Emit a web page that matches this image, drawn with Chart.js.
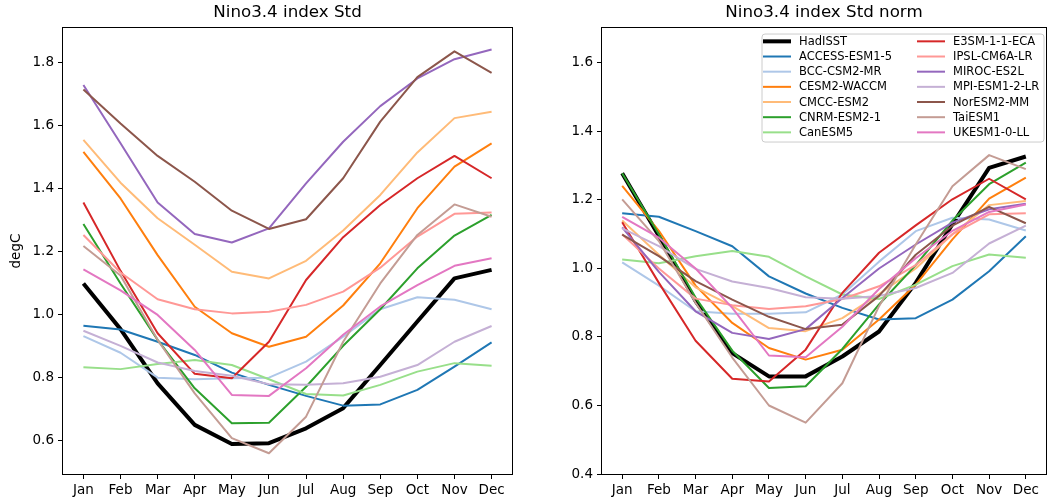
<!DOCTYPE html>
<html>
<head>
<meta charset="utf-8">
<title>Nino3.4 index Std</title>
<script src="https://cdn.jsdelivr.net/npm/chart.js@4.4.1/dist/chart.umd.min.js"></script>
<style>
  html, body { margin: 0; padding: 0; background: #ffffff; }
  #wrap { position: relative; width: 1049px; height: 502px; overflow: hidden; background: #ffffff; }
  #wrap canvas { position: absolute; top: 0; }
</style>
</head>
<body>
<div id="wrap">
  <canvas id="stdChart" width="575" height="502" style="left:0px"></canvas>
  <canvas id="normChart" width="588" height="502" style="left:530px"></canvas>
</div>
<script>
// ---- categories and tick labels ----
const months = ['Jan', 'Feb', 'Mar', 'Apr', 'May', 'Jun', 'Jul', 'Aug', 'Sep', 'Oct', 'Nov', 'Dec'];
const stdTicks = [0.6, 0.8, 1.0, 1.2, 1.4, 1.6, 1.8];
const normTicks = [0.4, 0.6, 0.8, 1.0, 1.2, 1.4, 1.6];

// ---- series names and colours ----
const seriesNames = ['HadISST', 'ACCESS-ESM1-5', 'BCC-CSM2-MR', 'CESM2-WACCM', 'CMCC-ESM2',
  'CNRM-ESM2-1', 'CanESM5', 'E3SM-1-1-ECA', 'IPSL-CM6A-LR', 'MIROC-ES2L',
  'MPI-ESM1-2-LR', 'NorESM2-MM', 'TaiESM1', 'UKESM1-0-LL'];
const seriesColors = ['#000000', '#1f77b4', '#aec7e8', '#ff7f0e', '#ffbb78',
  '#2ca02c', '#98df8a', '#d62728', '#ff9896', '#9467bd',
  '#c5b0d5', '#8c564b', '#c49c94', '#e377c2'];

// ---- monthly standard deviation of the Nino3.4 index (degC) ----
const hadisstStd = [1.100, 0.955, 0.783, 0.651, 0.590, 0.593, 0.640, 0.704, 0.841, 0.979, 1.116, 1.143];
const accessStd  = [0.966, 0.954, 0.915, 0.873, 0.817, 0.778, 0.743, 0.712, 0.716, 0.762, 0.836, 0.913];
const bccStd     = [0.933, 0.880, 0.801, 0.796, 0.799, 0.801, 0.852, 0.931, 1.018, 1.056, 1.048, 1.018];
const cesmStd    = [1.518, 1.370, 1.190, 1.026, 0.942, 0.899, 0.931, 1.030, 1.164, 1.339, 1.471, 1.545];
const cmccStd    = [1.556, 1.420, 1.307, 1.223, 1.137, 1.116, 1.172, 1.268, 1.381, 1.516, 1.625, 1.645];
const cnrmStd    = [1.289, 1.100, 0.921, 0.767, 0.656, 0.658, 0.772, 0.902, 1.018, 1.148, 1.252, 1.318];
const canesmStd  = [0.834, 0.828, 0.844, 0.857, 0.841, 0.796, 0.749, 0.744, 0.778, 0.820, 0.847, 0.839];
const e3smStd    = [1.357, 1.140, 0.942, 0.813, 0.799, 0.915, 1.111, 1.247, 1.349, 1.434, 1.505, 1.434];
const ipslStd    = [1.254, 1.135, 1.050, 1.018, 1.005, 1.010, 1.032, 1.074, 1.150, 1.249, 1.321, 1.325];
const mirocStd   = [1.730, 1.545, 1.357, 1.257, 1.230, 1.275, 1.418, 1.550, 1.663, 1.751, 1.812, 1.843];
const mpiStd     = [0.950, 0.902, 0.849, 0.822, 0.807, 0.780, 0.778, 0.783, 0.804, 0.841, 0.915, 0.965];
const norStd     = [1.716, 1.608, 1.505, 1.423, 1.331, 1.273, 1.304, 1.434, 1.614, 1.755, 1.837, 1.769];
const taiStd     = [1.219, 1.125, 0.921, 0.751, 0.609, 0.561, 0.677, 0.915, 1.100, 1.254, 1.351, 1.312];
const ukStd      = [1.145, 1.078, 1.000, 0.889, 0.746, 0.743, 0.831, 0.937, 1.027, 1.095, 1.156, 1.180];

// ---- the same standard deviations divided by their annual mean ----
const hadisstNorm = [1.278, 1.095, 0.905, 0.753, 0.685, 0.685, 0.743, 0.816, 0.958, 1.129, 1.294, 1.327];
const accessNorm  = [1.161, 1.151, 1.109, 1.065, 0.977, 0.927, 0.885, 0.851, 0.855, 0.909, 0.992, 1.094];
const bccNorm     = [1.018, 0.950, 0.875, 0.868, 0.868, 0.872, 0.924, 1.020, 1.109, 1.148, 1.143, 1.111];
const cesmNorm    = [1.241, 1.110, 0.950, 0.841, 0.768, 0.734, 0.763, 0.851, 0.953, 1.085, 1.204, 1.265];
const cmccNorm    = [1.140, 1.040, 0.945, 0.890, 0.826, 0.817, 0.855, 0.925, 1.000, 1.100, 1.185, 1.197];
const cnrmNorm    = [1.278, 1.100, 0.915, 0.760, 0.651, 0.656, 0.765, 0.895, 1.010, 1.140, 1.246, 1.309];
const canesmNorm  = [1.026, 1.015, 1.036, 1.051, 1.034, 0.977, 0.924, 0.911, 0.953, 1.007, 1.041, 1.031];
const e3smNorm    = [1.135, 0.958, 0.789, 0.678, 0.670, 0.763, 0.929, 1.046, 1.126, 1.202, 1.262, 1.202];
const ipslNorm    = [1.100, 1.000, 0.912, 0.893, 0.882, 0.890, 0.911, 0.948, 1.010, 1.100, 1.158, 1.161];
const mirocNorm   = [1.120, 0.990, 0.875, 0.812, 0.794, 0.823, 0.914, 1.000, 1.070, 1.134, 1.173, 1.189];
const mpiNorm     = [1.117, 1.065, 0.999, 0.962, 0.943, 0.916, 0.912, 0.920, 0.943, 0.987, 1.073, 1.125];
const norNorm     = [1.099, 1.036, 0.963, 0.909, 0.859, 0.823, 0.836, 0.920, 1.040, 1.125, 1.180, 1.132];
const taiNorm     = [1.202, 1.080, 0.900, 0.740, 0.600, 0.550, 0.665, 0.890, 1.070, 1.240, 1.331, 1.290];
const ukNorm      = [1.151, 1.090, 1.000, 0.885, 0.746, 0.741, 0.830, 0.940, 1.030, 1.110, 1.165, 1.187];

const stdSeries = [hadisstStd, accessStd, bccStd, cesmStd, cmccStd, cnrmStd, canesmStd,
  e3smStd, ipslStd, mirocStd, mpiStd, norStd, taiStd, ukStd];
const normSeries = [hadisstNorm, accessNorm, bccNorm, cesmNorm, cmccNorm, cnrmNorm, canesmNorm,
  e3smNorm, ipslNorm, mirocNorm, mpiNorm, norNorm, taiNorm, ukNorm];

// ---- styling ----
const FONT = "'DejaVu Sans', 'Liberation Sans', sans-serif";
const TICK_FONT = { family: FONT, size: 13.5 };

// closed box around the plotting area
const frameBox = {
  id: 'frameBox',
  afterDatasetsDraw(chart) {
    const a = chart.chartArea;
    const ctx = chart.ctx;
    ctx.save();
    ctx.strokeStyle = '#000000';
    ctx.lineWidth = 1;
    ctx.strokeRect(Math.round(a.left) - 0.5, Math.round(a.top) - 0.5,
      Math.round(a.right - a.left) + 1, Math.round(a.bottom - a.top) + 1);
    ctx.restore();
  }
};

// two-column legend in the upper right of the plotting area
const columnLegend = {
  id: 'columnLegend',
  afterDraw(chart) {
    const a = chart.chartArea;
    const ctx = chart.ctx;
    const sets = chart.data.datasets;
    const rows = Math.ceil(sets.length / 2);
    const boxW = 282, boxH = 108;
    const boxX = a.right - 2 - boxW, boxY = a.top + 6;
    const rowH = 15.17, firstRow = boxY + 7.3;
    const colX = [boxX + 1, boxX + 155];
    ctx.save();
    // frame
    const r = 3;
    ctx.beginPath();
    ctx.moveTo(boxX + r, boxY);
    ctx.lineTo(boxX + boxW - r, boxY);
    ctx.quadraticCurveTo(boxX + boxW, boxY, boxX + boxW, boxY + r);
    ctx.lineTo(boxX + boxW, boxY + boxH - r);
    ctx.quadraticCurveTo(boxX + boxW, boxY + boxH, boxX + boxW - r, boxY + boxH);
    ctx.lineTo(boxX + r, boxY + boxH);
    ctx.quadraticCurveTo(boxX, boxY + boxH, boxX, boxY + boxH - r);
    ctx.lineTo(boxX, boxY + r);
    ctx.quadraticCurveTo(boxX, boxY, boxX + r, boxY);
    ctx.closePath();
    ctx.fillStyle = 'rgba(255,255,255,0.8)';
    ctx.fill();
    ctx.strokeStyle = '#cccccc';
    ctx.lineWidth = 1;
    ctx.stroke();
    // entries, filled column by column
    ctx.font = '11.5px ' + FONT;
    ctx.textBaseline = 'middle';
    ctx.textAlign = 'left';
    sets.forEach((ds, i) => {
      const col = Math.floor(i / rows);
      const row = i % rows;
      const x = colX[col];
      const y = firstRow + row * rowH;
      ctx.beginPath();
      ctx.moveTo(x, y);
      ctx.lineTo(x + 28, y);
      ctx.strokeStyle = ds.borderColor;
      ctx.lineWidth = ds.borderWidth;
      ctx.lineCap = 'butt';
      ctx.stroke();
      ctx.fillStyle = '#000000';
      ctx.fillText(ds.label, x + 36, y + 0.5);
    });
    ctx.restore();
  }
};

function makeDatasets(seriesList) {
  return seriesNames.map((name, i) => ({
    label: name,
    data: seriesList[i].map((v, k) => ({ x: k, y: v })),
    borderColor: seriesColors[i],
    backgroundColor: seriesColors[i],
    borderWidth: i === 0 ? 4 : 2,
    pointRadius: 0,
    pointHoverRadius: 0,
    tension: 0,
    fill: false,
    borderJoinStyle: 'round',
    order: -i
  }));
}

// sideWidth: room for the value axis on the left; an empty box of the same
// width on the right keeps the title centred over the plotting area
function makeChart(canvasId, titleText, seriesList, yMin, yMax, yTicks, sideWidth, yTitle, plugins) {
  return new Chart(document.getElementById(canvasId), {
    type: 'line',
    data: { datasets: makeDatasets(seriesList) },
    options: {
      responsive: false,
      animation: false,
      devicePixelRatio: 1,
      events: [],
      layout: { padding: 0 },
      plugins: {
        legend: { display: false },
        tooltip: { enabled: false },
        title: {
          display: true,
          text: titleText,
          color: '#000000',
          font: { family: FONT, size: 16.7, weight: 'normal' },
          padding: { top: 3, bottom: 5 }
        }
      },
      scales: {
        x: {
          type: 'linear',
          min: -0.55,
          max: 11.55,
          afterBuildTicks: (s) => { s.ticks = months.map((m, k) => ({ value: k })); },
          afterFit: (s) => { s.height = 28; },
          ticks: {
            callback: (v) => months[Math.round(v)],
            color: '#000000',
            font: TICK_FONT,
            padding: 3,
            maxRotation: 0,
            autoSkip: false
          },
          grid: { drawOnChartArea: false, drawTicks: true, tickLength: 5, tickColor: '#000000', tickWidth: 1 },
          border: { display: false }
        },
        y: {
          type: 'linear',
          position: 'left',
          min: yMin,
          max: yMax,
          afterBuildTicks: (s) => { s.ticks = yTicks.map((v) => ({ value: v })); },
          afterFit: (s) => { s.width = sideWidth; },
          ticks: {
            callback: (v) => Number(v).toFixed(1),
            color: '#000000',
            font: TICK_FONT,
            padding: 4
          },
          title: {
            display: !!yTitle,
            text: yTitle || '',
            color: '#000000',
            font: { family: FONT, size: 13.5 },
            padding: { top: 8, bottom: 0 }
          },
          grid: { drawOnChartArea: false, drawTicks: true, tickLength: 5, tickColor: '#000000', tickWidth: 1 },
          border: { display: false }
        },
        spacer: {
          type: 'linear',
          position: 'right',
          display: true,
          afterFit: (s) => { s.width = sideWidth; },
          ticks: { display: false },
          grid: { display: false },
          border: { display: false }
        }
      }
    },
    plugins: plugins
  });
}

makeChart('stdChart', 'Nino3.4 index Std', stdSeries, 0.495, 1.911, stdTicks, 63, 'degC', [frameBox]);
makeChart('normChart', 'Nino3.4 index Std norm', normSeries, 0.4, 1.702, normTicks, 72, '', [frameBox, columnLegend]);
</script>
</body>
</html>
